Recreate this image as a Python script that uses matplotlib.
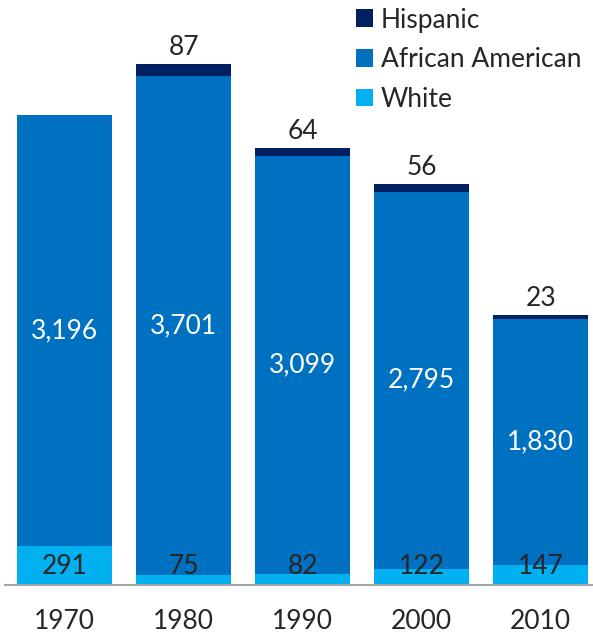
import numpy as np
import matplotlib.pyplot as plt

# datos del grafico
years = ['1970', '1980', '1990', '2000', '2010']
white = [291, 75, 82, 122, 147]
african_american = [3196, 3701, 3099, 2795, 1830]
hispanic = [0, 87, 64, 56, 23]

c_white = '#00B0F0'
c_aa = '#0070C0'
c_hisp = '#002060'

plt.rcParams['font.family'] = ['Lato', 'DejaVu Sans']

fig = plt.figure(figsize=(5.93, 6.36), dpi=100)
ax = fig.add_axes([5 / 593, 1 - 585 / 636, 588 / 593, 585 / 636])

x = np.arange(len(years))
w = np.array(white)
a = np.array(african_american)
h = np.array(hispanic)

ax.bar(x, w, width=0.8, color=c_white, label='White')
ax.bar(x, a, width=0.8, bottom=w, color=c_aa, label='African American')
ax.bar(x, h, width=0.8, bottom=w + a, color=c_hisp, label='Hispanic')

fs = 19
for i in range(len(years)):
    ax.text(x[i], 140, f'{white[i]:,}', ha='center', va='center', fontsize=fs, color='#262626')
    ax.text(x[i], w[i] + a[i] / 2, f'{african_american[i]:,}', ha='center', va='center',
            fontsize=fs, color='white')
    if hispanic[i] > 0:
        ax.text(x[i], w[i] + a[i] + h[i] + 30, f'{hispanic[i]:,}', ha='center', va='bottom',
                fontsize=fs, color='#262626')

ax.set_xlim(-0.5, 4.44)
ax.set_ylim(0, 4340)
ax.set_xticks(x)
ax.set_xticklabels(years, fontsize=fs, color='#262626')
ax.tick_params(axis='x', length=0, pad=17)
ax.set_yticks([])
for s in ['top', 'right', 'left']:
    ax.spines[s].set_visible(False)
ax.spines['bottom'].set_color('#A6A6A6')
ax.spines['bottom'].set_linewidth(1.5)

handles, labels = ax.get_legend_handles_labels()
leg = ax.legend(handles[::-1], labels[::-1], loc='upper left', bbox_to_anchor=(340 / 588, 1.005),
                frameon=False, fontsize=fs, handlelength=0.66, handleheight=0.66,
                handletextpad=0.3, labelspacing=0.55, borderaxespad=0.0, labelcolor='#262626')

fig.savefig('out.png', dpi=100)
